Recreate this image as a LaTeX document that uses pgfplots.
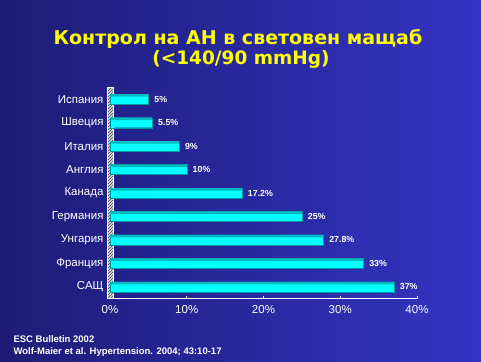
\documentclass[border=0pt]{standalone}
\usepackage{pgfplots}
\pgfplotsset{compat=1.18}
\usepackage{fontspec}
\setmainfont{Liberation Sans}
\newfontfamily\ttlfont{DejaVu Sans}
\usetikzlibrary{patterns}
\definecolor{bgA}{RGB}{28,28,118}
\definecolor{bgB}{RGB}{52,52,196}
\definecolor{ttl}{RGB}{255,255,0}
\definecolor{barc}{RGB}{0,255,255}
\definecolor{bartop}{RGB}{0,185,195}
\begin{document}
\begin{tikzpicture}[x=1pt,y=1pt]
\shade[left color=bgA,right color=bgB] (0,0) rectangle (481,361);
\node[font=\ttlfont\bfseries\fontsize{19}{22}\selectfont,text=ttl] at (238,322) {Контрол на АН в световен мащаб};
\node[font=\ttlfont\bfseries\fontsize{18.5}{22}\selectfont,text=ttl] at (241,302) {(<140/90 mmHg)};
\node[font=\bfseries\fontsize{9.5}{12}\selectfont,text=white,anchor=west,align=left] at (10,15) {ESC Bulletin 2002\\Wolf-Maier et al. Hypertension. 2004; 43:10-17};
\begin{axis}[
  at={(110pt,62.5pt)}, anchor=south west,
  scale only axis, width=307pt, height=211pt,
  xmin=0, xmax=40, ymin=-0.5, ymax=8.5,
  xbar, bar width=10pt,
  /pgf/number format/assume math mode=true,
  axis x line*=bottom, axis y line*=left,
  axis line style={white, line width=0.6pt},
  xtick={0,10,20,30,40},
  xticklabels={0\%,10\%,20\%,30\%,40\%},
  ytick={-0.5,0.5,...,8.5},
  yticklabels={},
  extra y ticks={0,...,8},
  extra y tick labels={САЩ,Франция,Унгария,Германия,Канада,Англия,Италия,Швеция,Испания},
  extra y tick style={major tick length=0pt},
  major tick length=3pt,
  tick style={white, line width=0.6pt},
  ytick align=outside, xtick align=inside,
  y tick label style={xshift=-3pt},
  tick label style={text=white, font=\fontsize{11.5}{13}\selectfont},
  xticklabel style={yshift=-3pt},
  clip=false,
]
\fill[gray!35] (axis cs:-0.3,-0.5) rectangle (axis cs:0.45,8.5);
\fill[pattern=north east lines, pattern color=black!70] (axis cs:-0.3,-0.5) rectangle (axis cs:0.45,8.5);
\draw[white, line width=0.5pt] (axis cs:-0.3,-0.5) rectangle (axis cs:0.45,8.5);
\addplot[fill=barc, draw=bartop!80!black, line width=0.3pt, bar shift=0pt,
  nodes near coords={\pgfmathprintnumber{\pgfplotspointmeta}\%},
  point meta=x,
  every node near coord/.append style={text=white, font=\bfseries\fontsize{8.8}{9}\selectfont, xshift=2.5pt}] coordinates {
(37,0) (33,1) (27.8,2) (25,3) (17.2,4) (10,5) (9,6) (5.5,7) (5,8)
};
\addplot[fill=bartop, draw=none, bar width=2.5pt, bar shift=3.75pt] coordinates {
(37,0) (33,1) (27.8,2) (25,3) (17.2,4) (10,5) (9,6) (5.5,7) (5,8)
};
\end{axis}
\end{tikzpicture}
\end{document}
